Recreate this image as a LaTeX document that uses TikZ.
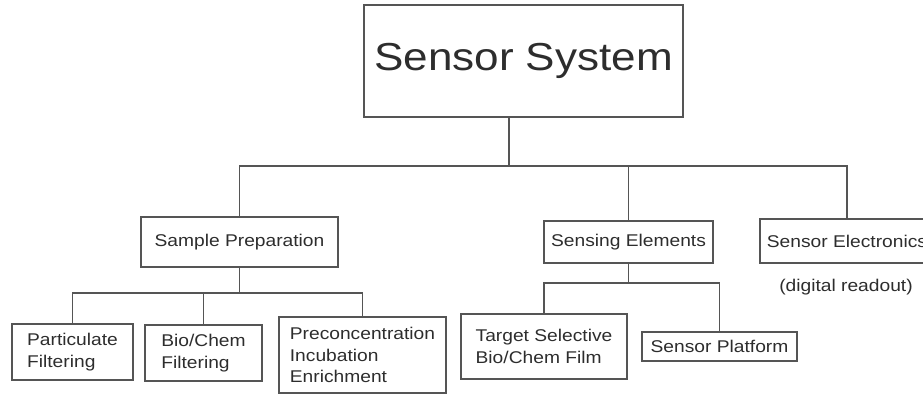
\documentclass[tikz,border=0pt]{standalone}
\usepackage{fontspec}
\setmainfont{Liberation Sans}[FakeStretch=1.13]
\usetikzlibrary{positioning}
\definecolor{boxline}{RGB}{85,85,85}
\definecolor{txt}{RGB}{45,45,45}
\tikzset{
  block/.style={rectangle,draw=boxline,line width=1.1pt,text=txt,align=left,inner sep=0pt,font=\fontsize{17}{21.7}\selectfont},
  link/.style={draw=boxline,line width=1.1pt}
}
\begin{document}
\begin{tikzpicture}[x=1pt,y=-1pt]
\clip (0,0) rectangle (923,394);
% top level
\node (sys) [block,minimum width=319pt,minimum height=112pt,font=\fontsize{39}{44}\selectfont] at (523.5,61) {Sensor System};
% second level
\node (prep) [block,minimum width=197pt,minimum height=50pt] at (239.5,242) {Sample Preparation};
\node (sens) [block,minimum width=169pt,minimum height=42pt] at (628.5,242) {Sensing Elements};
\node (elec) [block,minimum width=174pt,minimum height=44pt] at (847,241) {Sensor Electronics};
\node (readout) [text=txt,inner sep=0pt,font=\fontsize{17}{21.7}\selectfont] at (846,287) {(digital readout)};
% third level
\node (part) [block,minimum width=121pt,minimum height=56pt] at (72.5,352) {Particulate\\Filtering};
\node (bio) [block,minimum width=117pt,minimum height=56pt] at (203.5,353) {Bio/Chem\\Filtering};
\node (pre) [block,minimum width=167pt,minimum height=76pt] at (362.5,355) {Preconcentration\\Incubation\\Enrichment};
\node (tsf) [block,minimum width=166pt,minimum height=65pt] at (544,346.5) {Target Selective\\Bio/Chem Film};
\node (plat) [block,minimum width=155pt,minimum height=29pt] at (719.5,346.5) {Sensor Platform};
%
\coordinate (bus) at (509,166);
\coordinate (prepbus) at (239.5,293);
\coordinate (sensbus) at (628.5,283);
\draw[link] ([xshift=-14.5pt]sys.south) -- (bus);
\draw[link] (prep.north) |- (bus) -| (elec.north);
\draw[link] (sens.north) -- (sens.north |- bus);
\draw[link] (prep.south) -- (prepbus);
\draw[link] (part.north) |- (prepbus) -| (pre.north);
\draw[link] (bio.north) -- (bio.north |- prepbus);
\draw[link] (sens.south) -- (sensbus);
\draw[link] (tsf.north) |- (sensbus) -| (plat.north);
\end{tikzpicture}
\end{document}
